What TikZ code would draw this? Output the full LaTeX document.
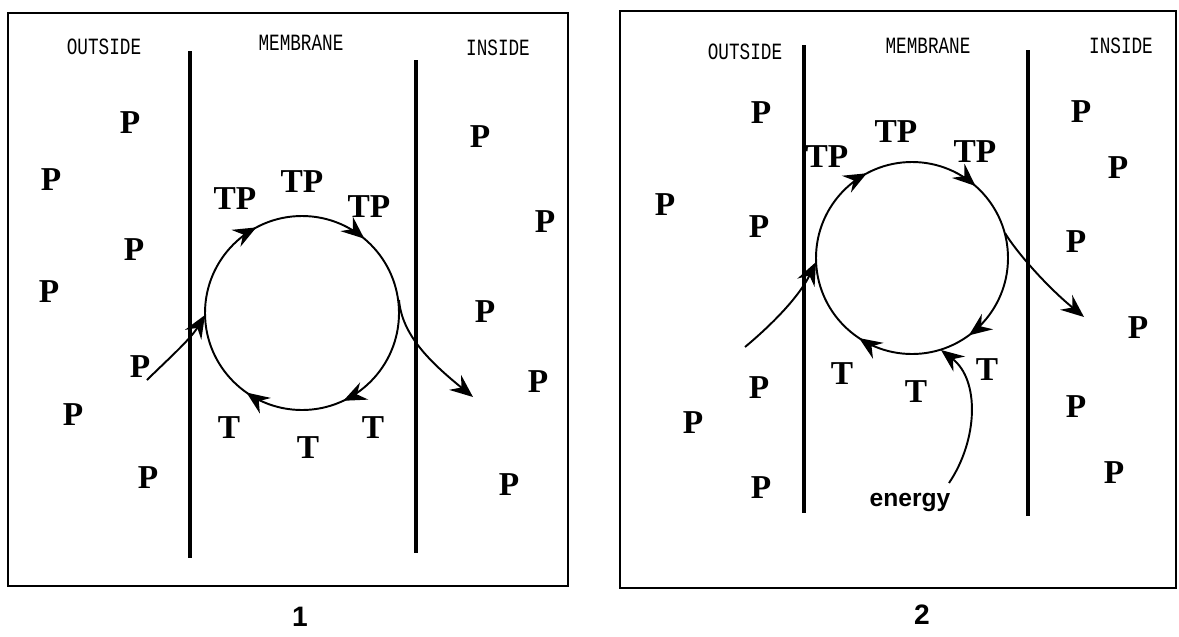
\documentclass[tikz,border=0pt]{standalone}
\usepackage{fontspec}
\usepackage{graphicx}
\setmainfont{Liberation Serif}
\setsansfont{Liberation Sans}
\setmonofont{Liberation Mono}
\usetikzlibrary{arrows.meta, decorations.markings}

\newcommand{\tallcaps}[1]{\scalebox{0.95}[1.25]{#1}}

\begin{document}
\begin{tikzpicture}[
        x=0.02cm, y=-0.02cm,
        mol/.style={inner sep=0pt, font=\fontsize{19}{19}\selectfont\bfseries},
        region/.style={inner sep=0pt, font=\ttfamily\fontsize{10.6}{10.6}\selectfont},
        panel/.style={draw, line width=0.9pt},
        wall/.style={line width=2.4pt},
        barb/.tip={Stealth[length=0.46cm, width=0.38cm, inset=0.16cm]},
        flow/.style={line width=1.1pt, -barb},
        carrier/.style n args={4}{line width=1.1pt, postaction={decorate}, decoration={markings,
            mark=at position #1 with {\arrow{barb}}, mark=at position #2 with {\arrow{barb}},
            mark=at position #3 with {\arrow{barb}}, mark=at position #4 with {\arrow{barb}}}},
        caption/.style={inner sep=0pt, font=\sffamily\bfseries\fontsize{16}{16}\selectfont}
    ]
        \useasboundingbox (0,0) rectangle (1179,636);

        % panel 1
        \draw[panel] (8,13) rectangle (568,586);
        \draw[wall] (190,51) -- (190,558);
        \draw[wall] (416,60) -- (416,553);
        \node[region] (outsideA) at (104,47) {\tallcaps{OUTSIDE}};
        \node[region] (membraneA) at (301,43) {\tallcaps{MEMBRANE}};
        \node[region] (insideA) at (498,48) {\tallcaps{INSIDE}};
        \foreach \px/\py [count=\i] in {130/123, 51/180, 134/250, 49/292, 140/367, 73/415, 148/478}
            \node[mol] (outA\i) at (\px,\py) {P};
        \foreach \px/\py [count=\i] in {480/137, 545/222, 485/312, 538/382, 509/485}
            \node[mol] (inA\i) at (\px,\py) {P};
        \foreach \px/\py [count=\i] in {235/199, 302/182, 369/207}
            \node[mol] (boundA\i) at (\px,\py) {TP};
        \foreach \px/\py [count=\i] in {229/428, 308/448, 373/428}
            \node[mol] (freeA\i) at (\px,\py) {T};
        \coordinate (hubA) at (302,313);
        \draw[carrier={0.18}{0.347}{0.672}{0.861}] (hubA) circle[radius=97];
        \coordinate (srcA) at (147,380);
        \coordinate (dockA) at (205,315);
        \coordinate (portA) at (399,300);
        \coordinate (dropA) at (473,397);
        \draw[flow] (srcA) .. controls (165,362) and (190,340) .. (dockA);
        \draw[flow] (portA) .. controls (402,335) and (430,362) .. (dropA);
        \node[caption] (capA) at (300,617) {1};

        % panel 2
        \draw[panel] (620,11) rectangle (1176,588);
        \draw[wall] (804,45) -- (804,513);
        \draw[wall] (1028,50) -- (1028,516);
        \node[region] (outsideB) at (745,52) {\tallcaps{OUTSIDE}};
        \node[region] (membraneB) at (928,46) {\tallcaps{MEMBRANE}};
        \node[region] (insideB) at (1121,46) {\tallcaps{INSIDE}};
        \foreach \px/\py [count=\i] in {761/113, 665/205, 759/227, 759/388, 693/423, 761/488}
            \node[mol] (outB\i) at (\px,\py) {P};
        \foreach \px/\py [count=\i] in {1081/112, 1118/168, 1076/242, 1138/328, 1076/407, 1114/473}
            \node[mol] (inB\i) at (\px,\py) {P};
        \foreach \px/\py [count=\i] in {827/157, 896/132, 975/152}
            \node[mol] (boundB\i) at (\px,\py) {TP};
        \foreach \px/\py [count=\i] in {842/374, 916/392, 987/370}
            \node[mol] (freeB\i) at (\px,\py) {T};
        \coordinate (hubB) at (912,258);
        \draw[carrier={0.149}{0.343}{0.672}{0.865}] (hubB) circle[radius=96];
        \coordinate (srcB) at (745,347);
        \coordinate (dockB) at (816,262);
        \coordinate (portB) at (1005,233);
        \coordinate (dropB) at (1084,317);
        \draw[flow] (srcB) .. controls (775,322) and (800,295) .. (dockB);
        \draw[flow] (portB) .. controls (1015,250) and (1045,285) .. (dropB);
        \node[caption, font=\sffamily\bfseries\fontsize{14}{14}\selectfont] (fuel) at (910,502) {energy};
        \coordinate (lift) at (949,483);
        \coordinate (grab) at (941,350);
        \draw[flow] (lift) .. controls (978,440) and (980,380) .. (grab);
        \node[caption] (capB) at (922,615) {2};
    \end{tikzpicture}
\end{document}
